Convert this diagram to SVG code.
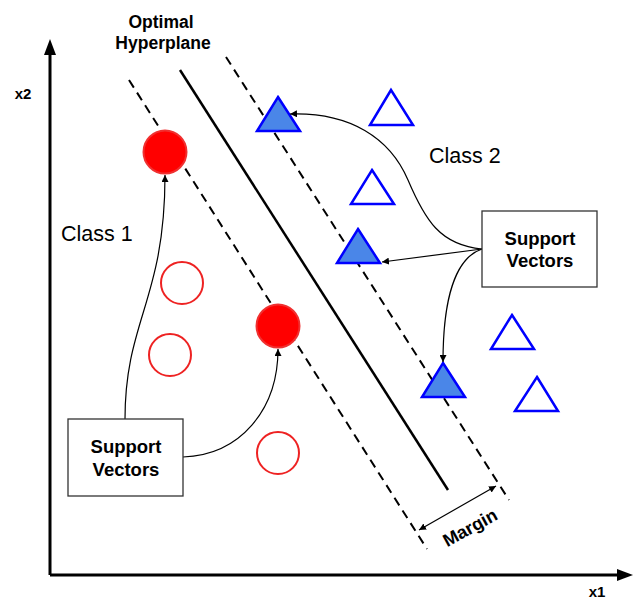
<svg xmlns="http://www.w3.org/2000/svg" width="633" height="599" viewBox="0 0 633 599">
<defs>
<marker id="ah" viewBox="0 0 10 10" refX="10" refY="5" markerWidth="7" markerHeight="7" markerUnits="userSpaceOnUse" orient="auto-start-reverse">
<path d="M0,0 L10,5 L0,10 z" fill="#000"/>
</marker>
<style>
.lbl{font-family:"Liberation Sans",Arial,sans-serif;fill:#000}
.b{font-weight:bold}
.axis{stroke:#000;stroke-width:3;fill:none}
.dash{stroke:#000;stroke-width:2;stroke-dasharray:9,6;fill:none}
.conn{stroke:#000;stroke-width:1.2;fill:none;marker-end:url(#ah)}
.rf{fill:#ff0000;stroke:#f03030;stroke-width:2}
.ro{fill:none;stroke:#ee2222;stroke-width:2}
.bf{fill:#4a86e8;stroke:#0000ff;stroke-width:2.5;stroke-linejoin:miter}
.bo{fill:none;stroke:#0000ff;stroke-width:2.5}
.box{fill:#fff;stroke:#333;stroke-width:1.3}
</style>
</defs>
<rect width="633" height="599" fill="#fff"/>
<g id="axes">
<path class="axis" d="M50,575 L50,52 M50,575 L620,575"/>
<path d="M50,39 L44,55 L56,55 z" fill="#000"/>
<path d="M633,575 L617,569 L617,581 z" fill="#000"/>
<text class="lbl b" x="23" y="99" font-size="15" text-anchor="middle">x2</text>
<text class="lbl b" x="597" y="597" font-size="15" text-anchor="middle">x1</text>
</g>
<g id="hyperplane">
<path class="dash" d="M129,80 L427,549"/>
<path d="M180,70 L448,490" stroke="#000" stroke-width="2.5" fill="none"/>
<path class="dash" d="M226,57 L509,500"/>
<text class="lbl b" x="161" y="28" font-size="17.5" text-anchor="middle">Optimal</text>
<text class="lbl b" x="163" y="49" font-size="17.5" text-anchor="middle">Hyperplane</text>
</g>
<g id="margin">
<path d="M419,530 L496,486" stroke="#000" stroke-width="1.2" fill="none" marker-start="url(#ah)" marker-end="url(#ah)"/>
<text class="lbl b" x="473" y="533" font-size="18" text-anchor="middle" transform="rotate(-29 473 533)">Margin</text>
</g>
<g id="class1">
<circle class="rf" cx="165" cy="152" r="21.5"/>
<circle class="rf" cx="278" cy="326" r="21.5"/>
<circle class="ro" cx="182" cy="283" r="21"/>
<circle class="ro" cx="170" cy="355" r="21"/>
<circle class="ro" cx="278" cy="453" r="21"/>
<text class="lbl" x="61" y="241" font-size="21.5">Class 1</text>
</g>
<g id="class2">
<path class="bf" d="M278,97 L300,131 L257,131 z"/>
<path class="bf" d="M358,229 L380,263 L337,263 z"/>
<path class="bf" d="M443,363 L465,397 L422,397 z"/>
<path class="bo" d="M391,90 L413,125 L370,125 z"/>
<path class="bo" d="M372,170 L394,204 L351,204 z"/>
<path class="bo" d="M512,315 L534,349 L491,349 z"/>
<path class="bo" d="M537,377 L558,411 L515,411 z"/>
<text class="lbl" x="429" y="163" font-size="21.5">Class 2</text>
</g>
<g id="connectors">
<path class="conn" d="M125,419 C125,320 165,300 165,175"/>
<path class="conn" d="M183,457 C240,455 278,410 278,349"/>
<path class="conn" d="M482,249 C440,245 425,220 408,180 C390,138 350,112 290,114"/>
<path class="conn" d="M482,249 L382,262"/>
<path class="conn" d="M482,249 C455,258 443,300 443,362"/>
</g>
<g id="sv-left">
<rect class="box" x="68" y="419" width="115" height="77"/>
<text class="lbl b" x="126" y="453" font-size="18.5" text-anchor="middle">Support</text>
<text class="lbl b" x="126" y="476" font-size="18.5" text-anchor="middle">Vectors</text>
</g>
<g id="sv-right">
<rect class="box" x="482" y="211" width="115" height="76"/>
<text class="lbl b" x="540" y="245" font-size="18.5" text-anchor="middle">Support</text>
<text class="lbl b" x="540" y="267" font-size="18.5" text-anchor="middle">Vectors</text>
</g>
</svg>
